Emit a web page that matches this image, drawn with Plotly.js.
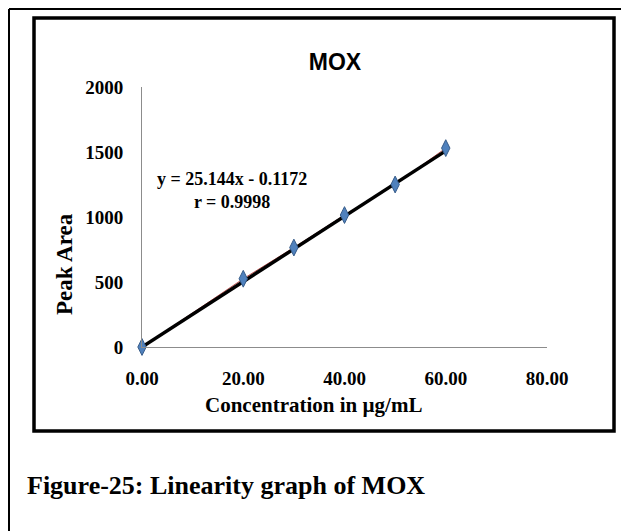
<!DOCTYPE html>
<html>
<head>
<meta charset="utf-8">
<script src="https://cdn.plot.ly/plotly-3.0.1.min.js"></script>
<style>
  html, body { margin: 0; padding: 0; background: #fff; }
  #chart { width: 626px; height: 531px; }
</style>
</head>
<body>
<div id="chart"></div>
<script>
// calibration data
var concentration = [0, 20, 30, 40, 50, 60];
var peakArea = [0, 525, 765, 1015, 1250, 1530];
var xTicks = [0, 20, 40, 60, 80];
var yTicks = [0, 500, 1000, 1500, 2000];

// regression from the chart label
var slope = 25.144;
var intercept = -0.1172;
var rValue = 0.9998;

var W = 626, H = 531;
var plotL = 142, plotR = 547, plotT = 87, plotB = 347;

// pixel -> paper helpers, only for frames and labels
function px(x) { return (x - plotL) / (plotR - plotL); }
function py(y) { return (plotB - y) / (plotB - plotT); }

var serif = 'Liberation Serif, Times New Roman, serif';

var trendX = [concentration[0], concentration[concentration.length - 1]];
var trendY = trendX.map(function (c) { return slope * c + intercept; });

var data = [
    {
        type: 'scatter',
        mode: 'lines',
        x: concentration,
        y: peakArea,
        line: { color: '#c0504d', width: 1 },
        hoverinfo: 'skip',
        showlegend: false
    },
    {
        type: 'scatter',
        mode: 'lines',
        x: trendX,
        y: trendY,
        line: { color: '#000000', width: 3.5 },
        hoverinfo: 'skip',
        showlegend: false
    },
    {
        type: 'scatter',
        mode: 'markers',
        x: concentration,
        y: peakArea,
        cliponaxis: false,
        marker: {
            symbol: 'diamond-tall',
            size: 12,
            color: '#4f81bd',
            line: { color: '#385d8a', width: 1 }
        },
        showlegend: false
    }
];

var layout = {
    width: W,
    height: H,
    paper_bgcolor: '#ffffff',
    plot_bgcolor: '#ffffff',
    margin: { l: plotL, r: W - plotR, t: plotT, b: H - plotB, pad: 0 },
    showlegend: false,
    title: {
        text: 'MOX',
        font: { family: 'Liberation Sans, Arial, sans-serif', size: 23, color: '#000', weight: 'bold' },
        xref: 'container', yref: 'container',
        x: 335 / W, y: 1 - 62 / H,
        xanchor: 'center', yanchor: 'middle'
    },
    xaxis: {
        range: [0, 80],
        tickvals: xTicks,
        ticktext: xTicks.map(function (v) { return v.toFixed(2); }),
        showgrid: false,
        zeroline: false,
        showline: true,
        linecolor: '#8c8c8c',
        linewidth: 1,
        ticks: '',
        ticklabelstandoff: 14,
        tickfont: { family: serif, size: 19, color: '#000', weight: 'bold' }
    },
    yaxis: {
        range: [0, 2000],
        tickvals: yTicks,
        showgrid: false,
        zeroline: false,
        showline: true,
        linecolor: '#8c8c8c',
        linewidth: 1,
        ticks: '',
        ticklabelstandoff: 14,
        tickfont: { family: serif, size: 19, color: '#000', weight: 'bold' }
    },
    annotations: [
        {
            xref: 'paper', yref: 'paper',
            x: px(313), y: py(405),
            text: 'Concentration in µg/mL',
            showarrow: false,
            xanchor: 'center', yanchor: 'middle',
            font: { family: serif, size: 21, color: '#000', weight: 'bold' }
        },
        {
            xref: 'paper', yref: 'paper',
            x: px(64), y: py(264),
            text: 'Peak Area',
            textangle: -90,
            showarrow: false,
            xanchor: 'center', yanchor: 'middle',
            font: { family: serif, size: 23, color: '#000', weight: 'bold' }
        },
        {
            xref: 'paper', yref: 'paper',
            x: px(232), y: py(190),
            text: 'y = ' + slope + 'x - ' + Math.abs(intercept) + '<br>r = ' + rValue,
            showarrow: false,
            align: 'center',
            xanchor: 'center', yanchor: 'middle',
            font: { family: serif, size: 18, color: '#000', weight: 'bold' }
        },
        {
            xref: 'paper', yref: 'paper',
            x: px(25), y: py(486),
            text: 'Figure-25: Linearity graph of MOX',
            showarrow: false,
            xanchor: 'left', yanchor: 'middle',
            font: { family: serif, size: 26, color: '#000', weight: 'bold' }
        }
    ],
    shapes: [
        // outer page frame (top and left)
        { type: 'line', xref: 'paper', yref: 'paper', x0: px(9), x1: px(621), y0: py(9), y1: py(9),
          line: { color: '#000', width: 2 } },
        { type: 'line', xref: 'paper', yref: 'paper', x0: px(9), x1: px(9), y0: py(9), y1: py(531),
          line: { color: '#000', width: 2 } },
        // chart border
        { type: 'rect', xref: 'paper', yref: 'paper', x0: px(34), x1: px(614), y0: py(18), y1: py(431),
          line: { color: '#000', width: 3.5 } }
    ]
};

Plotly.newPlot('chart', data, layout, { displayModeBar: false, staticPlot: true });
</script>
</body>
</html>
